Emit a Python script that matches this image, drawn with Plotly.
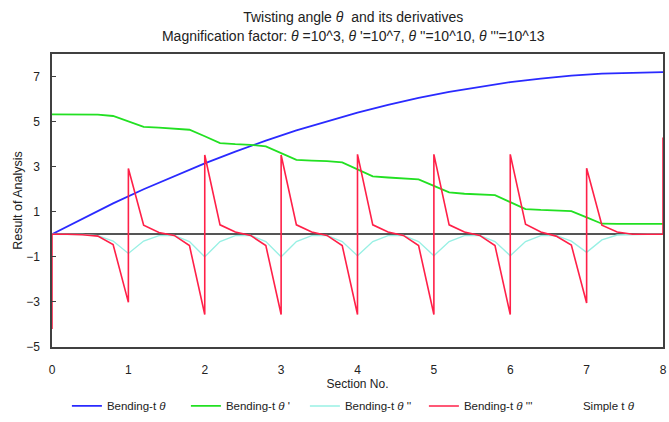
import plotly.graph_objects as go

# ---- data ----
x_blue = [0, 0.4, 0.8, 1.2, 1.6, 2.0, 2.4, 2.8, 3.2, 3.6, 4.0, 4.4, 4.8, 5.2, 5.6, 6.0, 6.4, 6.8, 7.2, 7.6, 8.0]
y_blue = [0, 0.70, 1.37, 2.00, 2.59, 3.15, 3.67, 4.16, 4.61, 5.02, 5.40, 5.74, 6.05, 6.32, 6.55, 6.75, 6.91, 7.04, 7.13, 7.18, 7.20]

x_step = [0, 0.2, 0.4, 0.6, 0.8, 1.0, 1.2, 1.4, 1.6, 1.8, 2.0, 2.2, 2.4, 2.6, 2.8, 3.0, 3.2, 3.4, 3.6, 3.8,
          4.0, 4.2, 4.4, 4.6, 4.8, 5.0, 5.2, 5.4, 5.6, 5.8, 6.0, 6.2, 6.4, 6.6, 6.8, 7.0, 7.2, 7.4, 7.6, 7.8, 8.0]
y_green = [5.32, 5.32, 5.32, 5.31, 5.25, 5.00, 4.77, 4.73, 4.70, 4.64, 4.35, 4.05, 4.00, 3.97, 3.90, 3.60, 3.30, 3.27, 3.25, 3.19,
           2.88, 2.57, 2.52, 2.49, 2.44, 2.15, 1.86, 1.80, 1.77, 1.74, 1.43, 1.12, 1.08, 1.06, 1.03, 0.75, 0.47, 0.46, 0.46, 0.46, 0.46]
y_cyan = [0, 0, -0.01, -0.06, -0.30, -0.85, -0.30, -0.06, -0.05, -0.32, -1.00, -0.32, -0.06, -0.05, -0.32, -1.00, -0.32, -0.06, -0.05, -0.32,
          -0.95, -0.32, -0.06, -0.05, -0.32, -0.95, -0.32, -0.06, -0.05, -0.32, -0.95, -0.32, -0.06, -0.05, -0.30, -0.80, -0.25, -0.03, 0, 0, 0]

x_red = [0, 0, 0.2, 0.4, 0.6, 0.8,
         1, 1, 1.2, 1.4, 1.6, 1.8,
         2, 2, 2.2, 2.4, 2.6, 2.8,
         3, 3, 3.2, 3.4, 3.6, 3.8,
         4, 4, 4.2, 4.4, 4.6, 4.8,
         5, 5, 5.2, 5.4, 5.6, 5.8,
         6, 6, 6.2, 6.4, 6.6, 6.8,
         7, 7, 7.2, 7.4, 7.6, 7.8,
         8, 8]
y_red = [-4.2, 0, 0, -0.02, -0.08, -0.45,
         -3.02, 2.92, 0.40, 0.08, -0.05, -0.50,
         -3.56, 3.52, 0.42, 0.10, -0.05, -0.50,
         -3.56, 3.52, 0.42, 0.10, -0.05, -0.50,
         -3.56, 3.55, 0.42, 0.10, -0.05, -0.50,
         -3.56, 3.55, 0.42, 0.10, -0.05, -0.50,
         -3.56, 3.55, 0.45, 0.10, -0.08, -0.48,
         -3.05, 2.93, 0.40, 0.10, 0.0, 0.0,
         0.0, 4.3]

x_simple = [0, 8]
y_simple = [0, 0]

names = ["Bending-t <i>θ</i>", "Bending-t <i>θ</i> '", "Bending-t <i>θ</i> ''", "Bending-t <i>θ</i> '''", "Simple t <i>θ</i>"]
colors = ["#2a2aff", "#22e022", "#98f0e4", "#ff2048", "rgba(0,0,0,0)"]

FONT = "Liberation Sans, Arial, sans-serif"

fig = go.Figure()
fig.add_trace(go.Scatter(x=x_blue, y=y_blue, mode="lines", name=names[0], line=dict(color=colors[0], width=1.8)))
fig.add_trace(go.Scatter(x=x_step, y=y_green, mode="lines", name=names[1], line=dict(color=colors[1], width=1.8)))
fig.add_trace(go.Scatter(x=x_step, y=y_cyan, mode="lines", name=names[2], line=dict(color=colors[2], width=1.4)))
fig.add_trace(go.Scatter(x=x_red, y=y_red, mode="lines", name=names[3], line=dict(color=colors[3], width=1.6)))
fig.add_trace(go.Scatter(x=x_simple, y=y_simple, mode="lines", name=names[4], line=dict(color=colors[4], width=1.5)))

fig.update_layout(
    width=669, height=422,
    margin=dict(l=52, r=6, t=54, b=75, autoexpand=False),
    paper_bgcolor="white", plot_bgcolor="white",
    font=dict(family=FONT, size=12, color="#222"),
    title=dict(
        text="Twisting angle <i>θ</i>  and its derivatives<br>Magnification factor: <i>θ</i> =10^3, <i>θ</i> '=10^7, <i>θ</i> ''=10^10, <i>θ</i> '''=10^13",
        x=0.528, xanchor="center", y=0.947, yanchor="top",
        font=dict(family=FONT, size=14, color="#222"),
    ),
    showlegend=True,
    legend=dict(orientation="h", xref="container", x=0.1, xanchor="left",
                yref="container", y=0.038, yanchor="middle",
                entrywidth=74, entrywidthmode="pixels",
                font=dict(family=FONT, size=11.5, color="#222"), bgcolor="rgba(0,0,0,0)"),
)
fig.update_xaxes(
    range=[0, 8], tickvals=[0, 1, 2, 3, 4, 5, 6, 7, 8],
    showgrid=False, zeroline=False,
    showline=True, mirror=True, linecolor="#404040", linewidth=1.5,
    ticks="", ticklabelstandoff=11,
    tickfont=dict(family=FONT, size=12, color="#222"),
    title=dict(text="Section No.", standoff=12, font=dict(family=FONT, size=12, color="#222")),
)
fig.update_yaxes(
    range=[-5, 8], tickvals=[-5, -3, -1, 1, 3, 5, 7],
    showgrid=False, zeroline=True, zerolinecolor="#555", zerolinewidth=1.5,
    showline=True, mirror=True, linecolor="#404040", linewidth=1.5,
    ticks="inside", ticklen=4, tickcolor="#404040", ticklabelstandoff=8,
    tickfont=dict(family=FONT, size=12, color="#222"),
    title=dict(text="Result of Analysis", standoff=1, font=dict(family=FONT, size=12.5, color="#222")),
)

fig.write_html("out.html")
